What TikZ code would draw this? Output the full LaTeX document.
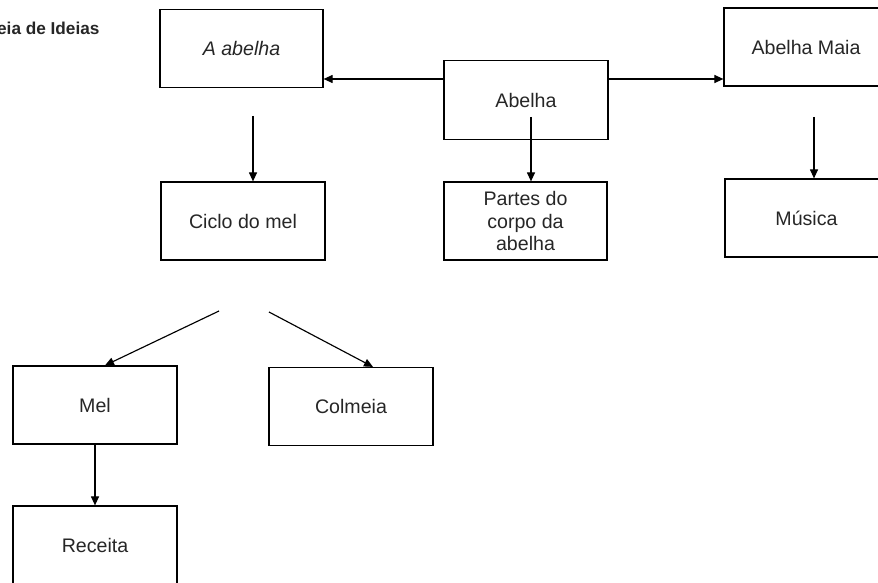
\documentclass[tikz,border=0pt]{standalone}
\usepackage{fontspec}
\setmainfont{Liberation Sans}
\usetikzlibrary{arrows.meta}
\begin{document}
\begin{tikzpicture}[x=1pt,y=-1pt,
  box/.style={draw=black,line width=1.2pt,rectangle,inner sep=0pt,align=center,
    font=\fontsize{19.6}{22.5}\selectfont,text=black!85},
  arr/.style={line width=1.15pt,-{Triangle[length=9pt,width=8pt]}},
  ln/.style={line width=1.1pt}]
\useasboundingbox (0,0) rectangle (878,583);
\clip (0,0) rectangle (878,583);
\node[anchor=base east,font=\fontsize{17.2}{19}\selectfont\bfseries,text=black!85] (title) at (103,35) {eia de Ideias};
\node[box,minimum width=163pt,minimum height=78pt] (aab) at (241.5,48.5) {\itshape A abelha};
\node[box,minimum width=164pt,minimum height=79pt] (abelha) at (526,100) {Abelha};
\node[box,minimum width=164pt,minimum height=78pt] (maia) at (806,47) {Abelha Maia};
\node[box,minimum width=164pt,minimum height=78pt] (ciclo) at (243,221) {Ciclo do mel};
\node[box,minimum width=163pt,minimum height=78pt] (partes) at (525.5,221) {Partes do\\corpo da\\abelha};
\node[box,minimum width=163pt,minimum height=78pt] (musica) at (806.5,218) {Música};
\node[box,minimum width=164pt,minimum height=78pt] (mel) at (95,405) {Mel};
\node[box,minimum width=164pt,minimum height=78pt] (colmeia) at (351,406.5) {Colmeia};
\node[box,minimum width=164pt,minimum height=78pt] (receita) at (95,545) {Receita};
\coordinate (l1) at (444,79);
\coordinate (r1) at (608,79);
\coordinate (d1) at (531,117);
\coordinate (d2) at (253,116);
\coordinate (d3) at (814,117);
\coordinate (s1) at (219,311);
\coordinate (s2) at (269,312);
\coordinate (m1) at (105,366);
\coordinate (c1) at (373,367);
\draw[arr] (l1) -- (l1 -| aab.east);
\draw[arr] (r1) -- (r1 -| maia.west);
\draw[arr] (d1) -- (d1 |- partes.north);
\draw[arr] (d2) -- (d2 |- ciclo.north);
\draw[arr] (d3) -- (d3 |- musica.north);
\draw[arr] (s1) -- (m1 |- mel.north);
\draw[arr] (s2) -- (c1 |- colmeia.north);
\draw[arr] (mel.south) -- (receita.north);
\end{tikzpicture}
\end{document}
